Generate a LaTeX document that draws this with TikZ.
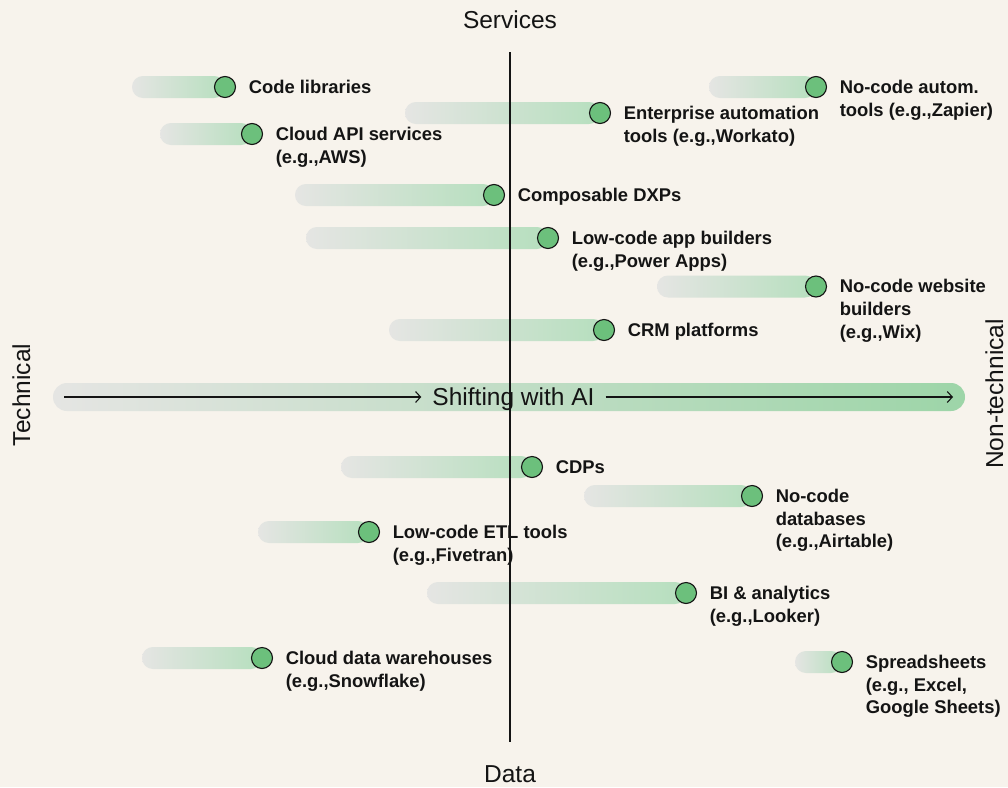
\documentclass[tikz,border=0pt]{standalone}
\usepackage{fontspec}
\setmainfont{Liberation Sans}
\usetikzlibrary{arrows.meta}

\definecolor{paper}{HTML}{F7F3EC}
\definecolor{ink}{HTML}{141414}
\definecolor{bargray}{HTML}{E5E5E3}
\definecolor{barmint}{HTML}{B6DFBE}
\definecolor{axismint}{HTML}{9DD5A8}
\definecolor{dotgreen}{HTML}{6CC07C}

\tikzset{
  dot/.style={circle, draw=ink, line width=1.1pt, fill=dotgreen,
    minimum size=21pt, inner sep=0pt},
  barshade/.style={left color=bargray, right color=barmint, rounded corners=10.9pt},
  lbl/.style={font=\bfseries\fontsize{18.4}{22.8}\selectfont,
    anchor=base west, inner sep=0pt, text=ink},
  axislbl/.style={font=\fontsize{24.5}{28}\selectfont, text=ink, inner sep=0pt},
  shiftarrow/.style={line width=1.2pt, draw=ink,
    -{Straight Barb[length=5pt, width=11pt, line width=1.1pt]}},
}

% label lines, aligned on the baseline of the first line
\newcommand\LabelLines[1]{\begin{tabular}[t]{@{}l@{}}#1\end{tabular}}

% name, bar start x, dot x, y, label
\newcommand\ToolBar[5]{%
  \shade[barshade] (#2,#4-11) rectangle (#3,#4+11);
  \node[dot] (#1) at (#3,#4) {};
  \node[lbl] (#1-text) at ([xshift=12.5pt,yshift=-6.3pt]#1.east) {\LabelLines{#5}};
}

\begin{document}
\begin{tikzpicture}[x=1pt, y=-1pt]
  \useasboundingbox (0,0) rectangle (1008,787);
  \fill[paper] (0,0) rectangle (1008,787);

  % axis titles
  \node[axislbl, anchor=base] (services) at (510,28.5) {Services};
  \node[axislbl, anchor=base] (data) at (510,782.5) {Data};
  \node[axislbl, anchor=base, rotate=90] (technical) at (30,395) {Technical};
  \node[axislbl, anchor=base, rotate=90] (nontechnical) at (1003,394) {Non-technical};

  % service tools
  \ToolBar{codelib}{132}{225}{87}{Code libraries}
  \ToolBar{cloudapi}{160}{252}{134}{Cloud API services\\(e.g.,AWS)}
  \ToolBar{entauto}{405}{600}{113}{Enterprise automation\\tools (e.g.,Workato)}
  \ToolBar{nocodeauto}{709}{816}{87}{No-code autom.\\tools (e.g.,Zapier)}
  \ToolBar{dxp}{295}{494}{195}{Composable DXPs}
  \ToolBar{lowcodeapp}{306}{548}{238}{Low-code app builders\\(e.g.,Power Apps)}
  \ToolBar{website}{657}{816}{286.5}{No-code website\\builders\\(e.g.,Wix)}
  \ToolBar{crm}{389}{604}{330}{CRM platforms}

  % data tools
  \ToolBar{cdp}{341}{532}{467}{CDPs}
  \ToolBar{nocodedb}{584}{752}{496}{No-code\\databases\\(e.g.,Airtable)}
  \ToolBar{etl}{258}{369}{532}{Low-code ETL tools\\(e.g.,Fivetran)}
  \ToolBar{bi}{427}{686}{593}{BI \& analytics\\(e.g.,Looker)}
  \ToolBar{dwh}{142}{262}{658}{Cloud data warehouses\\(e.g.,Snowflake)}
  \ToolBar{sheets}{795}{842}{662}{Spreadsheets\\(e.g., Excel,\\Google Sheets)}

  % shift band across the middle
  \shade[left color=bargray, right color=axismint, rounded corners=14pt]
    (53,383) rectangle (965,411);
  \node[axislbl, anchor=base, inner xsep=11pt] (shift) at (513.5,405.5) {Shifting with AI};
  \coordinate (shiftstart) at (64,397);
  \coordinate (shiftend) at (953,397);
  \draw[shiftarrow] (shiftstart) -- (shift.west |- shiftstart);
  \draw[shiftarrow] (shift.east |- shiftstart) -- (shiftend);

  % vertical axis
  \coordinate (axistop) at (510,52);
  \coordinate (axisbottom) at (510,742);
  \draw[ink, line width=1.2pt] (axistop) -- (axisbottom);
\end{tikzpicture}
\end{document}
